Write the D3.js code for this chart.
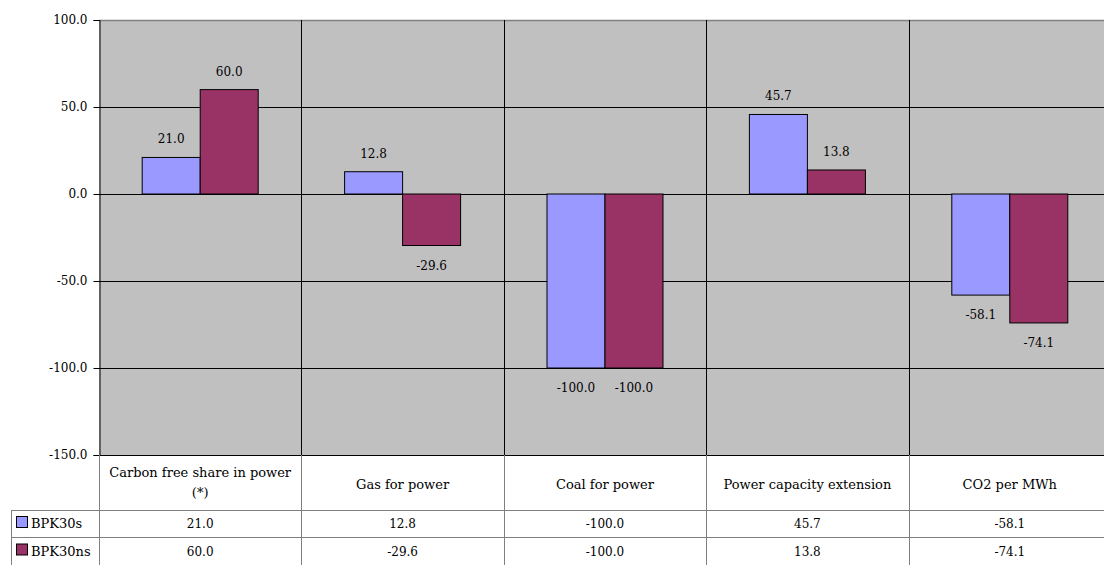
<!DOCTYPE html>
<html>
<head>
<meta charset="utf-8">
<script src="https://cdn.jsdelivr.net/npm/d3@7"></script>
<style>
  body { margin: 0; background: #fff; }
  text { font-family: "DejaVu Serif", "Liberation Serif", serif; font-size: 12px; fill: #000; }
</style>
</head>
<body>
<script>
var categories = ['Carbon free share in power (*)', 'Gas for power', 'Coal for power', 'Power capacity extension', 'CO2 per MWh'];
var seriesNames = ['BPK30s', 'BPK30ns'];
var bpk30s = [21.0, 12.8, -100.0, 45.7, -58.1];
var bpk30ns = [60.0, -29.6, -100.0, 13.8, -74.1];
var yTicks = [100, 50, 0, -50, -100, -150];
var colors = ['#9999ff', '#993366'];

var width = 1104;
var height = 565;
var svg = d3.select('body').append('svg').attr('width', width).attr('height', height);

var plot = { left: 99, right: 1111, top: 20, bottom: 455 };
var rowY = [455, 510, 537, 565];
var legendLeft = 11;
// plain hyphen for negatives, like the original
var fmt = function (d) { return d.toFixed(1); };

var x = d3.scaleBand().domain(categories).range([plot.left, plot.right]);
var xs = d3.scaleBand().domain(seriesNames).range([0, 116]);
var y = d3.scaleLinear().domain([-150, 100]).range([plot.bottom, plot.top]);

// plot background
svg.append('rect')
    .attr('x', plot.left).attr('y', plot.top)
    .attr('width', plot.right - plot.left).attr('height', plot.bottom - plot.top)
    .attr('fill', '#c0c0c0');

// horizontal gridlines
svg.append('g').selectAll('line')
    .data(yTicks.slice(1, 5))
    .enter().append('line')
    .attr('x1', plot.left).attr('x2', plot.right)
    .attr('y1', function (d) { return Math.round(y(d)) + 0.5; })
    .attr('y2', function (d) { return Math.round(y(d)) + 0.5; })
    .attr('stroke', '#000');
svg.append('line')
    .attr('x1', plot.left).attr('x2', plot.right)
    .attr('y1', plot.top + 0.5).attr('y2', plot.top + 0.5)
    .attr('stroke', '#808080').attr('stroke-width', 1.5);

// vertical category separators
svg.append('g').selectAll('line')
    .data(categories.slice(1))
    .enter().append('line')
    .attr('x1', function (d) { return Math.round(x(d)) + 0.5; })
    .attr('x2', function (d) { return Math.round(x(d)) + 0.5; })
    .attr('y1', plot.top).attr('y2', plot.bottom)
    .attr('stroke', '#000');

// bars
var data = [bpk30s, bpk30ns];
data.forEach(function (vals, si) {
    var g = svg.append('g');
    g.selectAll('rect')
        .data(vals)
        .enter().append('rect')
        .attr('x', function (d, i) { return x(categories[i]) + (x.bandwidth() - 116) / 2 + xs(seriesNames[si]); })
        .attr('y', function (d) { return y(Math.max(0, d)); })
        .attr('width', xs.bandwidth())
        .attr('height', function (d) { return Math.abs(y(d) - y(0)); })
        .attr('fill', colors[si])
        .attr('stroke', '#000')
        .attr('stroke-width', 1);
    g.selectAll('text')
        .data(vals)
        .enter().append('text')
        .attr('x', function (d, i) { return x(categories[i]) + (x.bandwidth() - 116) / 2 + xs(seriesNames[si]) + xs.bandwidth() / 2; })
        .attr('y', function (d) { return d >= 0 ? y(d) - 14 : y(d) + 24; })
        .attr('text-anchor', 'middle')
        .text(fmt);
});

// y axis
var yAxis = d3.axisLeft(y).tickValues(yTicks).tickSize(6).tickFormat(fmt);
var ag = svg.append('g')
    .attr('transform', 'translate(' + (plot.left + 0.5) + ',0)')
    .call(yAxis);
ag.select('.domain').attr('stroke', '#000');
ag.selectAll('.tick line').attr('stroke', '#000');
ag.selectAll('.tick text')
    .attr('x', -12)
    .style('font-family', '"DejaVu Serif", serif').style('font-size', '12px');

// data table
var tg = svg.append('g');
var gray = '#808080';
// horizontal lines
[rowY[0], rowY[1], rowY[2]].forEach(function (yy, i) {
    tg.append('line')
        .attr('x1', i === 0 ? plot.left : legendLeft).attr('x2', width)
        .attr('y1', yy + 0.5).attr('y2', yy + 0.5)
        .attr('stroke', i === 0 ? '#000' : gray);
});
// vertical lines
tg.append('line').attr('x1', plot.left + 0.5).attr('x2', plot.left + 0.5)
    .attr('y1', rowY[0]).attr('y2', height).attr('stroke', gray);
tg.append('line').attr('x1', legendLeft + 0.5).attr('x2', legendLeft + 0.5)
    .attr('y1', rowY[1]).attr('y2', height).attr('stroke', gray);
tg.selectAll('line.sep')
    .data(categories.slice(1))
    .enter().append('line')
    .attr('class', 'sep')
    .attr('x1', function (d) { return Math.round(x(d)) + 0.5; })
    .attr('x2', function (d) { return Math.round(x(d)) + 0.5; })
    .attr('y1', rowY[0]).attr('y2', height)
    .attr('stroke', gray);

// header labels
categories.forEach(function (c) {
    var cx = x(c) + x.bandwidth() / 2;
    var t = tg.append('text').attr('text-anchor', 'middle').style('font-size', '13px');
    if (c.indexOf('(*)') >= 0) {
        t.append('tspan').attr('x', cx).attr('y', 477).text('Carbon free share in power');
        t.append('tspan').attr('x', cx).attr('y', 497).text('(*)');
    } else {
        t.attr('x', cx).attr('y', 489).text(c);
    }
});

// rows
data.forEach(function (vals, si) {
    var ry = (rowY[si + 1] + rowY[si + 2]) / 2 + 4.5;
    tg.append('rect')
        .attr('x', 16.5).attr('y', ry - 11.5)
        .attr('width', 11).attr('height', 11)
        .attr('fill', colors[si]).attr('stroke', '#000');
    tg.append('text').attr('x', 31).attr('y', ry).style('font-size', '13px').text(seriesNames[si]);
    tg.selectAll('text.v' + si)
        .data(vals)
        .enter().append('text')
        .attr('class', 'v' + si)
        .attr('x', function (d, i) { return x(categories[i]) + x.bandwidth() / 2; })
        .attr('y', ry)
        .attr('text-anchor', 'middle')
        .text(fmt);
});
</script>
</body>
</html>
